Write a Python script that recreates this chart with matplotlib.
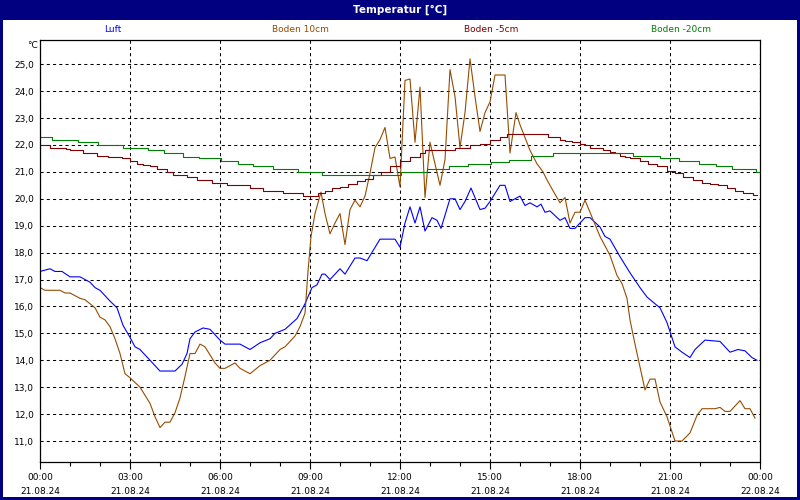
import numpy as np
import matplotlib.pyplot as plt
from matplotlib.patches import Rectangle
from matplotlib.ticker import FixedLocator, FuncFormatter

# --- Werte (Minuten seit 21.08.24 00:00, °C) ---
t_luft = [0, 20, 30, 44, 60, 80, 100, 110, 120, 140, 154, 166, 180, 190, 200, 240, 270, 284, 294,
          300, 310, 326, 340, 360, 370, 400, 420, 440, 460, 470, 490, 514, 520, 530, 544, 554,
          564, 570, 580, 600, 610, 630, 640, 654, 680, 710, 720, 730, 740, 750, 760, 770, 784,
          794, 802, 820, 830, 840, 850, 862, 880, 890, 900, 920, 930, 940, 960, 970, 980, 994,
          1002, 1010, 1020, 1040, 1050, 1060, 1070, 1090, 1100, 1120, 1130, 1140, 1160, 1180,
          1200, 1214, 1230, 1240, 1254, 1270, 1284, 1300, 1310, 1330, 1360, 1380, 1396, 1410,
          1424, 1434]
luft = [17.3, 17.4, 17.3, 17.3, 17.1, 17.1, 16.9, 16.7, 16.6, 16.2, 15.95, 15.3, 14.85, 14.5, 14.4,
        13.6, 13.6, 13.85, 14.25, 14.8, 15.05, 15.2, 15.15, 14.75, 14.6, 14.6, 14.4, 14.65, 14.8,
        15.0, 15.15, 15.55, 15.75, 16.1, 16.7, 16.8, 17.2, 17.2, 17.0, 17.4, 17.2, 17.8, 17.8,
        17.7, 18.5, 18.5, 18.2, 19.1, 19.7, 19.1, 19.7, 18.8, 19.3, 19.2, 18.9, 20.0, 20.0, 19.6,
        19.9, 20.4, 19.6, 19.65, 19.9, 20.5, 20.5, 19.9, 20.1, 19.75, 19.85, 19.7, 19.8, 19.5,
        19.55, 19.2, 19.3, 18.9, 18.9, 19.3, 19.3, 18.95, 18.6, 18.5, 17.85, 17.25, 16.7, 16.35,
        16.1, 15.95, 15.4, 14.5, 14.3, 14.1, 14.4, 14.75, 14.7, 14.3, 14.4, 14.35, 14.1, 14.0]

t_boden10 = [0, 10, 40, 50, 60, 80, 90, 100, 110, 120, 130, 140, 150, 160, 170, 180, 200, 220, 230,
             240, 250, 260, 270, 280, 290, 300, 310, 320, 330, 350, 360, 370, 390, 400, 420, 440,
             460, 480, 490, 510, 520, 530, 536, 542, 550, 562, 570, 580, 590, 600, 610, 620, 630,
             640, 650, 660, 670, 680, 690, 700, 710, 720, 730, 740, 750, 760, 770, 780, 790, 800,
             810, 820, 830, 840, 850, 860, 870, 880, 890, 900, 910, 930, 940, 952, 960, 980, 994,
             1006, 1014, 1026, 1040, 1050, 1060, 1070, 1080, 1090, 1100, 1120, 1140, 1154, 1164,
             1174, 1180, 1190, 1200, 1210, 1220, 1230, 1240, 1254, 1270, 1284, 1300, 1314, 1324,
             1340, 1350, 1360, 1370, 1380, 1400, 1410, 1420, 1430]
boden10 = [16.7, 16.6, 16.6, 16.5, 16.5, 16.3, 16.25, 16.1, 15.95, 15.6, 15.5, 15.25, 14.8, 14.25,
           13.5, 13.35, 13.0, 12.4, 11.9, 11.5, 11.7, 11.7, 12.05, 12.6, 13.4, 14.25, 14.25, 14.6,
           14.5, 13.9, 13.7, 13.7, 13.9, 13.7, 13.5, 13.8, 14.0, 14.4, 14.5, 14.9, 15.25, 15.75,
           17.3, 18.6, 19.45, 20.25, 19.45, 18.7, 19.1, 19.45, 18.3, 19.6, 19.95, 19.7, 20.1,
           20.95, 21.9, 22.2, 22.65, 21.5, 21.55, 20.45, 24.4, 24.45, 22.1, 24.15, 20.05, 22.1,
           21.3, 20.5, 21.45, 24.8, 23.8, 21.9, 23.2, 25.2, 23.8, 22.5, 23.2, 23.6, 24.6, 24.6,
           21.7, 23.2, 22.75, 21.8, 21.3, 21.0, 20.7, 20.3, 19.85, 20.05, 19.1, 19.5, 19.5, 19.95,
           19.5, 18.6, 17.9, 17.15, 16.85, 16.3, 15.5, 14.6, 13.75, 12.9, 13.3, 13.3, 12.45, 11.9,
           11.0, 11.0, 11.3, 11.95, 12.2, 12.2, 12.2, 12.25, 12.1, 12.1, 12.5, 12.2, 12.2, 11.85]

t_boden5 = [0, 20, 52, 60, 86, 114, 136, 164, 180, 194, 206, 220, 234, 254, 266, 294, 314, 344,
            374, 420, 446, 486, 526, 556, 570, 584, 600, 616, 634, 650, 666, 682, 700, 720, 740,
            760, 770, 830, 860, 880, 900, 920, 934, 1016, 1040, 1050, 1064, 1080, 1090, 1100,
            1126, 1140, 1150, 1160, 1170, 1180, 1200, 1216, 1234, 1254, 1270, 1286, 1306, 1324,
            1340, 1356, 1374, 1390, 1406, 1426, 1434]
boden5 = [22.0, 21.9, 21.85, 21.8, 21.7, 21.6, 21.55, 21.5, 21.4, 21.3, 21.25, 21.2, 21.1, 21.0,
          20.9, 20.8, 20.7, 20.6, 20.5, 20.4, 20.3, 20.2, 20.1, 20.2, 20.3, 20.4, 20.45, 20.55,
          20.65, 20.75, 20.9, 21.0, 21.2, 21.4, 21.55, 21.7, 21.8, 21.9, 22.0, 22.05, 22.2, 22.3,
          22.4, 22.3, 22.2, 22.15, 22.1, 22.05, 22.0, 21.9, 21.8, 21.75, 21.7, 21.6, 21.55, 21.5,
          21.4, 21.3, 21.2, 21.05, 20.95, 20.8, 20.7, 20.6, 20.55, 20.5, 20.4, 20.3, 20.2, 20.15,
          20.15]

t_boden20 = [0, 24, 76, 116, 166, 216, 248, 286, 318, 362, 396, 426, 466, 516, 564, 722, 774, 818,
             856, 902, 938, 982, 1026, 1186, 1240, 1278, 1318, 1352, 1384, 1432, 1440]
boden20 = [22.3, 22.2, 22.1, 22.0, 21.9, 21.8, 21.7, 21.55, 21.5, 21.4, 21.3, 21.2, 21.1, 21.0,
           20.9, 21.0, 21.1, 21.2, 21.3, 21.35, 21.45, 21.6, 21.7, 21.6, 21.5, 21.4, 21.3, 21.2,
           21.1, 21.0, 21.0]

serien = ['Luft', 'Boden 10cm', 'Boden -5cm', 'Boden -20cm']
farben = ['#0000ff', '#964b00', '#800000', '#008000']
x_labels = ['00:00\n21.08.24', '03:00\n21.08.24', '06:00\n21.08.24', '09:00\n21.08.24',
            '12:00\n21.08.24', '15:00\n21.08.24', '18:00\n21.08.24', '21:00\n21.08.24',
            '00:00\n22.08.24']

navy = '#000080'
fig = plt.figure(figsize=(8, 5), dpi=100, facecolor='white', edgecolor=navy, linewidth=3)

# Titelbalken
fig.add_artist(Rectangle((0, 1 - 20 / 500), 1, 20 / 500, transform=fig.transFigure,
                         facecolor=navy, edgecolor='none'))
fig.text(0.5, 1 - 10 / 500, 'Temperatur [°C]', color='white', fontsize=7.5, fontweight='bold',
         ha='center', va='center')

# Legende als farbige Beschriftungen
for name, farbe, xpos in zip(serien, farben, [113, 300, 491, 681]):
    fig.text(xpos / 800, 1 - 30 / 500, name, color=farbe, fontsize=6.5, ha='center', va='center')

ax = fig.add_axes([40 / 800, 38 / 500, 720 / 800, 422 / 500])

ax.plot(t_luft, luft, color=farben[0], lw=0.8)
ax.plot(t_boden10, boden10, color=farben[1], lw=0.8)
ax.plot(t_boden5, boden5, color=farben[2], lw=0.8, drawstyle='steps-post')
ax.plot(t_boden20, boden20, color=farben[3], lw=0.8, drawstyle='steps-post')

ax.set_xlim(0, 1440)
ax.set_ylim(10.22, 25.9)

ax.set_xticks(np.arange(0, 1441, 180))
ax.set_xticklabels(x_labels)
ax.xaxis.set_minor_locator(FixedLocator(np.arange(0, 1441, 60)))
ax.set_yticks(np.arange(11, 26))
ax.yaxis.set_major_formatter(FuncFormatter(lambda v, p: f'{v:.1f}'.replace('.', ',')))

ax.tick_params(axis='x', which='major', length=5, width=0.8, labelsize=6.5, pad=3)
ax.tick_params(axis='x', which='minor', length=3, width=0.8)
ax.tick_params(axis='y', length=0, labelsize=6.5, pad=4)
for lab in ax.get_xticklabels():
    lab.set_linespacing(1.75)

ax.grid(True, color='black', linestyle=(0, (3, 3)), linewidth=0.75)
for s in ax.spines.values():
    s.set_linewidth(0.9)

fig.text(38 / 800, 1 - 45 / 500, '°C', fontsize=6.5, ha='right', va='center')

plt.savefig('out.png', dpi=100)
